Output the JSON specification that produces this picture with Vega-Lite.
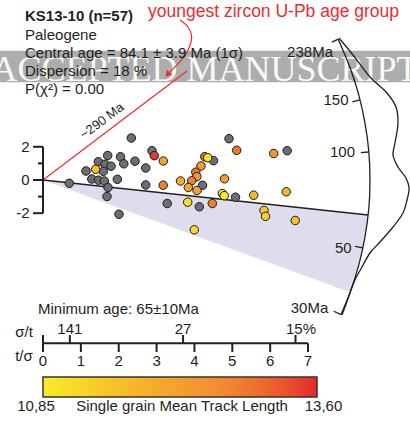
{
  "$schema": "https://vega.github.io/schema/vega-lite/v6.json",
  "width": 410,
  "height": 423,
  "padding": 0,
  "autosize": {"type": "none"},
  "background": "white",
  "config": {"view": {"stroke": null}, "font": "Liberation Sans"},
  "datasets": {
    "band": [{"x": -1.2, "x2": 9.8, "y": 7.789, "y2": 5.886}],
    "wm": [{"x": 4.279, "y": 5.964, "t": "ACCEPTED MANUSCRIPT"}],
    "shade": [
      {"x": 0, "y": 0, "y2": 0},
      {"x": 8.096, "y": -6.747, "y2": -1.988},
      {"x": 8.305, "y": -5.422, "y2": -2.039},
      {"x": 8.479, "y": -3.759, "y2": -2.082},
      {"x": 8.543, "y": -2.91, "y2": -2.098},
      {"x": 8.587, "y": -2.108, "y2": -2.108}
    ],
    "central": [{"x": 0, "y": 0, "x2": 8.587, "y2": -2.108}],
    "redline": [{"x": 0, "y": 0, "x2": 3.804, "y2": 6.566}],
    "arc": [
      {"i": 0, "x": 7.797, "y": 8.482},
      {"i": 1, "x": 8.117, "y": 6.735},
      {"i": 2, "x": 8.344, "y": 5.096},
      {"i": 3, "x": 8.505, "y": 3.422},
      {"i": 4, "x": 8.606, "y": 1.717},
      {"i": 5, "x": 8.637, "y": 0},
      {"i": 6, "x": 8.606, "y": -1.717},
      {"i": 7, "x": 8.505, "y": -3.422},
      {"i": 8, "x": 8.344, "y": -5.096},
      {"i": 9, "x": 8.117, "y": -6.735},
      {"i": 10, "x": 7.872, "y": -8.108}
    ],
    "kde": [
      {"i": 0, "x": 7.819, "y": 8.554},
      {"i": 1, "x": 8.189, "y": 7.53},
      {"i": 2, "x": 8.637, "y": 6.205},
      {"i": 3, "x": 9.087, "y": 5.241},
      {"i": 4, "x": 9.324, "y": 4.398},
      {"i": 5, "x": 9.377, "y": 3.434},
      {"i": 6, "x": 9.298, "y": 2.229},
      {"i": 7, "x": 9.245, "y": 1.506},
      {"i": 8, "x": 9.377, "y": 0.783},
      {"i": 9, "x": 9.589, "y": 0.12},
      {"i": 10, "x": 9.67, "y": -0.482},
      {"i": 11, "x": 9.615, "y": -1.205},
      {"i": 12, "x": 9.509, "y": -1.988},
      {"i": 13, "x": 9.245, "y": -2.831},
      {"i": 14, "x": 8.902, "y": -3.735},
      {"i": 15, "x": 8.637, "y": -4.398},
      {"i": 16, "x": 8.426, "y": -5.241},
      {"i": 17, "x": 8.241, "y": -6.024},
      {"i": 18, "x": 8.109, "y": -6.807},
      {"i": 19, "x": 7.977, "y": -7.651},
      {"i": 20, "x": 7.898, "y": -8.133}
    ],
    "arcticks": [
      {"x": 7.797, "y": 8.482, "x2": 7.631, "y2": 8.301},
      {"x": 8.374, "y": 4.831, "x2": 8.17, "y2": 4.711},
      {"x": 8.606, "y": 1.687, "x2": 8.395, "y2": 1.645},
      {"x": 8.45, "y": -4.096, "x2": 8.241, "y2": -3.994},
      {"x": 7.872, "y": -8.108, "x2": 7.679, "y2": -7.909}
    ],
    "axisrules": [
      {"x": 0, "y": -2, "x2": 0, "y2": 2},
      {"x": -0.264, "y": 2, "x2": 0, "y2": 2},
      {"x": -0.264, "y": 0, "x2": 0, "y2": 0},
      {"x": -0.264, "y": -2, "x2": 0, "y2": -2},
      {"x": -0.132, "y": 1, "x2": 0, "y2": 1},
      {"x": -0.132, "y": -1, "x2": 0, "y2": -1},
      {"x": 0, "y": -9.837, "x2": 7, "y2": -9.837},
      {"x": 0, "y": -9.837, "x2": 0, "y2": -10.361},
      {"x": 1, "y": -9.837, "x2": 1, "y2": -10.361},
      {"x": 2, "y": -9.837, "x2": 2, "y2": -10.361},
      {"x": 3, "y": -9.837, "x2": 3, "y2": -10.361},
      {"x": 4, "y": -9.837, "x2": 4, "y2": -10.361},
      {"x": 5, "y": -9.837, "x2": 5, "y2": -10.361},
      {"x": 6, "y": -9.837, "x2": 6, "y2": -10.361},
      {"x": 7, "y": -9.837, "x2": 7, "y2": -10.361},
      {"x": 0, "y": -9.837, "x2": 0, "y2": -9.337},
      {"x": 0.709, "y": -9.837, "x2": 0.709, "y2": -9.337},
      {"x": 3.7, "y": -9.837, "x2": 3.7, "y2": -9.337},
      {"x": 6.67, "y": -9.837, "x2": 6.67, "y2": -9.337}
    ],
    "arrow": [
      {"i": 0, "x": 3.619, "y": 9.639},
      {"i": 1, "x": 3.83, "y": 9.217},
      {"i": 2, "x": 3.928, "y": 8.633},
      {"i": 3, "x": 3.83, "y": 7.831},
      {"i": 4, "x": 3.619, "y": 7.127},
      {"i": 5, "x": 3.407, "y": 6.627},
      {"i": 6, "x": 3.355, "y": 6.506}
    ],
    "arrowhead": [{"x": 3.289, "y": 6.355}],
    "rightlabels": [
      {"x": 7.66, "y": 7.729, "t": "238Ma"},
      {"x": 8.07, "y": 4.819, "t": "150"},
      {"x": 8.241, "y": 1.705, "t": "100"},
      {"x": 8.152, "y": -4.096, "t": "50"},
      {"x": 7.536, "y": -7.711, "t": "30Ma"},
      {"x": -0.357, "y": 2, "t": "2"},
      {"x": -0.357, "y": 0, "t": "0"},
      {"x": -0.357, "y": -2, "t": "-2"}
    ],
    "centerlabels": [
      {"x": 0, "y": -10.904, "t": "0"},
      {"x": 1, "y": -10.904, "t": "1"},
      {"x": 2, "y": -10.904, "t": "2"},
      {"x": 3, "y": -10.904, "t": "3"},
      {"x": 4, "y": -10.904, "t": "4"},
      {"x": 5, "y": -10.904, "t": "5"},
      {"x": 6, "y": -10.904, "t": "6"},
      {"x": 7, "y": -10.904, "t": "7"},
      {"x": 0.709, "y": -9.006, "t": "141"},
      {"x": 3.7, "y": -9.006, "t": "27"},
      {"x": 6.815, "y": -9.006, "t": "15%"},
      {"x": -0.502, "y": -9.157, "t": "σ/t"},
      {"x": -0.502, "y": -10.602, "t": "t/σ"},
      {"x": 3.672, "y": -13.645, "t": "Single grain Mean Track Length"},
      {"x": -0.185, "y": -13.645, "t": "10,85"},
      {"x": 7.409, "y": -13.645, "t": "13,60"}
    ],
    "leftlabels": [
      {"x": -0.132, "y": -7.771, "t": "Minimum age: 65±10Ma"},
      {"x": -0.475, "y": 8.735, "t": "Paleogene"},
      {"x": -0.475, "y": 7.651, "t": "Central age = 84.1 ± 3.9 Ma (1σ)"},
      {"x": -0.475, "y": 6.566, "t": "Dispersion = 18 %"},
      {"x": -0.475, "y": 5.482, "t": "P(χ²) = 0.00"}
    ],
    "boldlabels": [{"x": -0.475, "y": 9.88, "t": "KS13-10 (n=57)"}],
    "redlabels": [{"x": 2.774, "y": 10.12, "t": "youngest zircon U-Pb age group"}],
    "rotlabels": [{"x": 1.558, "y": 3.554, "t": "~290 Ma"}],
    "grey": [
      {"x": 0.695, "y": -0.199}, {"x": 1.136, "y": 0.542}, {"x": 1.289, "y": 0.06},
      {"x": 1.461, "y": 1.102}, {"x": 1.709, "y": 1.476}, {"x": 1.638, "y": 0.946},
      {"x": 1.593, "y": 0.524}, {"x": 1.796, "y": 0.831}, {"x": 1.466, "y": -0.012},
      {"x": 1.619, "y": -0.06}, {"x": 1.717, "y": -0.452}, {"x": 1.691, "y": -0.994},
      {"x": 1.963, "y": 0.042}, {"x": 2.047, "y": 1.398}, {"x": 2.134, "y": 0.976},
      {"x": 2.007, "y": -2.066}, {"x": 2.332, "y": 2.53}, {"x": 2.43, "y": 1.133},
      {"x": 2.713, "y": 0.723}, {"x": 2.713, "y": -0.301}, {"x": 2.879, "y": 1.765},
      {"x": 3.281, "y": -1.416}, {"x": 4.913, "y": 2.488}, {"x": 6.45, "y": 1.765},
      {"x": 4.504, "y": 1.163}, {"x": 4.213, "y": -0.319}, {"x": 5.085, "y": -1.036},
      {"x": 4.129, "y": -1.614}
    ],
    "colored": [
      {"x": 1.392, "y": 0.645, "mtl": 11.6},
      {"x": 2.94, "y": 1.464, "mtl": 13.5},
      {"x": 3.178, "y": 1.145, "mtl": 12.1},
      {"x": 3.175, "y": -0.313, "mtl": 12.8},
      {"x": 5.116, "y": 1.789, "mtl": 12.9},
      {"x": 6.094, "y": 1.596, "mtl": 12.4},
      {"x": 4.274, "y": 1.404, "mtl": 13.0},
      {"x": 4.35, "y": 1.343, "mtl": 11.0},
      {"x": 4.173, "y": 0.843, "mtl": 12.3},
      {"x": 4.036, "y": 0.47, "mtl": 12.9},
      {"x": 4.063, "y": 0.199, "mtl": 12.3},
      {"x": 3.928, "y": -0.048, "mtl": 12.8},
      {"x": 3.632, "y": -0.06, "mtl": 12.0},
      {"x": 3.838, "y": -0.452, "mtl": 12.1},
      {"x": 4.068, "y": -0.633, "mtl": 12.2},
      {"x": 4.794, "y": 0.072, "mtl": 12.3},
      {"x": 4.736, "y": -0.813, "mtl": 11.1},
      {"x": 4.786, "y": -0.946, "mtl": 10.9},
      {"x": 5.565, "y": -0.916, "mtl": 11.7},
      {"x": 6.424, "y": -0.711, "mtl": 11.8},
      {"x": 3.822, "y": -1.337, "mtl": 11.0},
      {"x": 4.472, "y": -1.416, "mtl": 12.8},
      {"x": 5.838, "y": -1.837, "mtl": 11.4},
      {"x": 5.877, "y": -2.187, "mtl": 11.4},
      {"x": 6.662, "y": -2.44, "mtl": 11.6},
      {"x": 3.997, "y": -3.0, "mtl": 11.2}
    ]
  },
  "encoding": {
    "x": {"field": "x", "type": "quantitative", "scale": {"domain": [-1.136, 9.694], "nice": false, "zero": false}, "axis": null},
    "y": {"field": "y", "type": "quantitative", "scale": {"domain": [-14.639, 10.843], "nice": false, "zero": false}, "axis": null}
  },
  "layer": [
    {"data": {"name": "band"}, "mark": {"type": "rect", "fill": "#adadad"}, "encoding": {"x2": {"field": "x2"}, "y2": {"field": "y2"}}},
    {"data": {"name": "wm"}, "mark": {"type": "text", "font": "Liberation Serif", "fontSize": 36, "fill": "#ffffff", "opacity": 0.92, "align": "center", "baseline": "alphabetic"}, "encoding": {"text": {"field": "t"}}},
    {"data": {"name": "shade"}, "mark": {"type": "area", "fill": "#dddded", "orient": "vertical"}, "encoding": {"y2": {"field": "y2"}}},
    {"data": {"name": "central"}, "mark": {"type": "rule", "stroke": "#231f20", "strokeWidth": 1.5}, "encoding": {"x2": {"field": "x2"}, "y2": {"field": "y2"}}},
    {"data": {"name": "redline"}, "mark": {"type": "rule", "stroke": "#ee2a2f", "strokeWidth": 1.2}, "encoding": {"x2": {"field": "x2"}, "y2": {"field": "y2"}}},
    {"data": {"name": "arc"}, "mark": {"type": "line", "stroke": "#231f20", "strokeWidth": 1.3, "interpolate": "catmull-rom"}, "encoding": {"order": {"field": "i", "type": "quantitative"}}},
    {"data": {"name": "kde"}, "mark": {"type": "line", "stroke": "#231f20", "strokeWidth": 1.3, "interpolate": "catmull-rom"}, "encoding": {"order": {"field": "i", "type": "quantitative"}}},
    {"data": {"name": "arcticks"}, "mark": {"type": "rule", "stroke": "#231f20", "strokeWidth": 1.3}, "encoding": {"x2": {"field": "x2"}, "y2": {"field": "y2"}}},
    {"data": {"name": "axisrules"}, "mark": {"type": "rule", "stroke": "#231f20", "strokeWidth": 2}, "encoding": {"x2": {"field": "x2"}, "y2": {"field": "y2"}}},
    {"data": {"name": "arrow"}, "mark": {"type": "line", "stroke": "#ee2a2f", "strokeWidth": 1.2, "interpolate": "catmull-rom"}, "encoding": {"order": {"field": "i", "type": "quantitative"}}},
    {"data": {"name": "arrowhead"}, "mark": {"type": "point", "shape": "triangle-up", "filled": true, "fill": "#ee2a2f", "size": 50, "angle": 225, "opacity": 1, "strokeWidth": 0}},
    {"data": {"name": "rightlabels"}, "mark": {"type": "text", "fontSize": 15, "fill": "#231f20", "align": "right", "baseline": "middle"}, "encoding": {"text": {"field": "t"}}},
    {"data": {"name": "centerlabels"}, "mark": {"type": "text", "fontSize": 15, "fill": "#231f20", "align": "center", "baseline": "middle"}, "encoding": {"text": {"field": "t"}}},
    {"data": {"name": "leftlabels"}, "mark": {"type": "text", "fontSize": 15, "fill": "#231f20", "align": "left", "baseline": "middle"}, "encoding": {"text": {"field": "t"}}},
    {"data": {"name": "boldlabels"}, "mark": {"type": "text", "fontSize": 15, "fontWeight": "bold", "fill": "#231f20", "align": "left", "baseline": "middle"}, "encoding": {"text": {"field": "t"}}},
    {"data": {"name": "redlabels"}, "mark": {"type": "text", "fontSize": 17.5, "fill": "#ee2a2f", "align": "left", "baseline": "middle"}, "encoding": {"text": {"field": "t"}}},
    {"data": {"name": "rotlabels"}, "mark": {"type": "text", "fontSize": 13, "fill": "#231f20", "align": "center", "baseline": "middle", "angle": 323}, "encoding": {"text": {"field": "t"}}},
    {"data": {"name": "grey"}, "mark": {"type": "circle", "size": 72, "fill": "#6d6e71", "stroke": "#1a1a1a", "strokeWidth": 1, "opacity": 1}},
    {"data": {"name": "colored"}, "mark": {"type": "circle", "size": 72, "stroke": "#1a1a1a", "strokeWidth": 1, "opacity": 1},
      "encoding": {"color": {"field": "mtl", "type": "quantitative",
        "scale": {"domain": [10.85, 11.77, 12.68, 13.6], "range": ["#f8ec2a", "#f6b52a", "#f08a34", "#e6282d"]},
        "legend": {"orient": "none", "legendX": 43, "legendY": 377, "direction": "horizontal", "gradientLength": 274, "gradientThickness": 20, "title": null, "values": [10.85, 13.6], "labelExpr": "''", "gradientStrokeColor": "#333333", "gradientStrokeWidth": 1.5}}}}
  ]
}
